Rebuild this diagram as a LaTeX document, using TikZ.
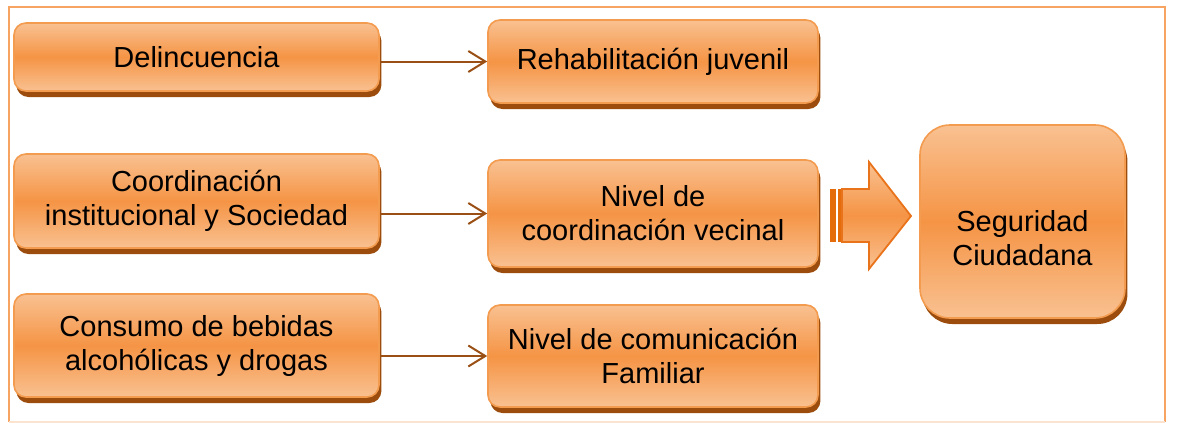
\documentclass[tikz,border=0pt]{standalone}
\usepackage{fontspec}
\setmainfont{Liberation Sans}
\usetikzlibrary{shadows,arrows.meta}
\definecolor{boxtop}{HTML}{F9C191}
\definecolor{boxmid}{HTML}{F59445}
\definecolor{boxline}{HTML}{F39B4E}
\definecolor{shadowc}{HTML}{9C4C0C}
\definecolor{linkc}{HTML}{9A4F14}
\definecolor{framec}{HTML}{F7A463}
\definecolor{framefaint}{HTML}{FBE3CF}
\definecolor{bigarrowline}{HTML}{E8731A}
\definecolor{stripec}{HTML}{E46C0A}
\tikzset{
  boxfont/.style={font=\fontsize{14.5}{17}\selectfont, text=black, align=center},
  obox/.style={rectangle, rounded corners=6pt, draw=boxline, line width=0.8pt,
    top color=boxtop, bottom color=boxtop, middle color=boxmid,
    drop shadow={shadow xshift=1.2pt, shadow yshift=-3pt, fill=shadowc, opacity=1},
    inner sep=2pt, boxfont},
  link/.style={draw=linkc, line width=1pt, -{Straight Barb[length=8.5pt,width=10.5pt,line width=1pt]}}
}
\begin{document}
\begin{tikzpicture}[x=0.5pt,y=-0.5pt]
\useasboundingbox (0,0) rectangle (1179,423);
% frame
\draw[framec, line width=1pt] (9,422) -- (9,7) -- (1165,7) -- (1165,422);
\draw[framefaint, line width=1pt] (9,422) -- (1165,422);
% left column
\node[obox, minimum width=182.5pt, minimum height=34pt] (lb1) at (196.5,57) {Delincuencia};
\node[obox, minimum width=182.5pt, minimum height=47pt] (lb2) at (196.5,201) {\raisebox{0pt}{}Coordinación\\institucional y Sociedad};
\node[obox, minimum width=182.5pt, minimum height=51.5pt] (lb3) at (196.5,345.5) {Consumo de bebidas\\alcohólicas y drogas};
% middle column
\node[obox, minimum width=165pt, minimum height=41.5pt] (mb1) at (653,61.5) {Rehabilitación juvenil};
\node[obox, minimum width=165pt, minimum height=53.5pt] (mb2) at (653,213.5) {Nivel de\\coordinación vecinal};
\node[obox, minimum width=165pt, minimum height=51pt] (mb3) at (653,356) {Nivel de comunicación\\Familiar};
% right
\node[obox, rounded corners=15pt, minimum width=102.5pt, minimum height=96.5pt] (seg) at (1022.5,221.5) {};
\node[boxfont] (segtext) at ([yshift=-8.5pt]seg.center) {Seguridad\\Ciudadana};
% connectors
\draw[link] (lb1.east |- mb1.west) -- (mb1.west);
\draw[link] (lb2.east |- mb2.west) -- (mb2.west);
\draw[link] (lb3.east |- mb3.west) -- (mb3.west);
% striped block arrow
\fill[stripec] (830,189) rectangle (835.5,242);
\fill[stripec] (837.5,189) rectangle (840.5,242);
\draw[bigarrowline, line width=0.9pt, top color=boxtop, bottom color=boxtop, middle color=boxmid]
  (842,189) -- (869,189) -- (869,162) -- (911,216) -- (869,269) -- (869,242) -- (842,242) -- cycle;
\end{tikzpicture}
\end{document}
